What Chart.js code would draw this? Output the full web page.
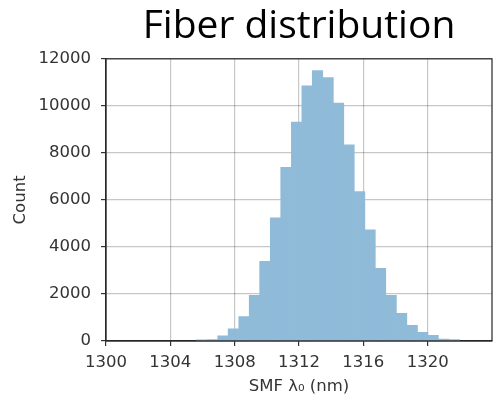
<!DOCTYPE html>
<html>
<head>
<meta charset="utf-8">
<script src="https://cdn.jsdelivr.net/npm/chart.js@4"></script>
<style>
  html, body { margin: 0; padding: 0; background: #fff; }
  #wrap { width: 493px; height: 395px; }
</style>
</head>
<body>
<div id="wrap"><canvas id="myChart" width="493" height="395"></canvas></div>
<script>
// histogram bins (centre of each bin, nm) and counts
var binCenters = [1305.96, 1306.62, 1307.27, 1307.92, 1308.58, 1309.23, 1309.88, 1310.54,
                  1311.19, 1311.85, 1312.50, 1313.15, 1313.81, 1314.46, 1315.11, 1315.77,
                  1316.42, 1317.07, 1317.73, 1318.38, 1319.04, 1319.69, 1320.34, 1321.00, 1321.65]
var counts = [50, 60, 225, 515, 1035, 1945, 3390, 5235, 7390, 9305, 10850, 11500, 11205,
              10115, 8340, 6355, 4725, 3095, 1945, 1180, 668, 370, 240, 80, 60]

var xTicks = [1300, 1304, 1308, 1312, 1316, 1320]
var yTicks = [0, 2000, 4000, 6000, 8000, 10000, 12000]

var tickFont = { family: "DejaVu Sans", size: 16.5 }
var inkColor = "#333"
// grid is drawn over the bars, semi transparent so it shows through them
var gridColor = "rgba(0,0,0,0.22)"

// box around the axes, like the matplotlib spines
var frame = {
    id: "frame",
    afterDraw: function(chart){
        var a = chart.chartArea
        var ctx = chart.ctx
        ctx.save()
        ctx.strokeStyle = "#262626"
        ctx.lineWidth = 1.2
        ctx.strokeRect(a.left, a.top, a.right - a.left, a.bottom - a.top)
        ctx.restore()
    }
}

var points = []
binCenters.forEach(function(x, i){
    points.push({ x: x, y: counts[i] })
})

function plainLabel(value){ return String(value) }

var myChart = document.getElementById("myChart").getContext('2d')

var chart = new Chart(myChart, {
    type: 'bar',
    data: {
        datasets: [{
            label: "Count",
            data: points,
            backgroundColor: "#8fbbd9",
            borderWidth: 0,
            barPercentage: 1,
            categoryPercentage: 1
        }]
    },
    options: {
        responsive: false,
        animation: false,
        layout: { padding: { left: 0, right: 1, top: 0, bottom: 0 } },
        plugins: {
            legend: { display: false },
            tooltip: { enabled: false },
            title: {
                display: true,
                text: "Fiber distribution",
                fullSize: false,
                align: "center",
                color: "#000",
                font: { family: "Open Sans", size: 39, weight: "normal", lineHeight: 1.2 },
                padding: { top: 3, bottom: 9 }
            }
        },
        scales: {
            x: {
                type: 'linear',
                offset: false,
                z: 1,
                min: 1300,
                max: 1324,
                afterBuildTicks: function(scale){
                    scale.ticks = xTicks.map(function(v){ return { value: v } })
                },
                afterFit: function(scale){ scale.height = 54 },
                grid: { offset: false, color: gridColor, lineWidth: 1.2, tickColor: "#333", tickLength: 5 },
                border: { color: "#262626", width: 1.2 },
                ticks: { color: inkColor, font: tickFont, padding: 7, maxRotation: 0, callback: plainLabel },
                title: {
                    display: true,
                    text: "SMF λ₀ (nm)",
                    color: inkColor,
                    font: { family: "DejaVu Sans", size: 16.5, lineHeight: 1.0 },
                    padding: { top: 0, bottom: 0 }
                }
            },
            y: {
                z: 1,
                min: 0,
                max: 12000,
                afterBuildTicks: function(scale){
                    scale.ticks = yTicks.map(function(v){ return { value: v } })
                },
                afterFit: function(scale){ scale.width = 106 },
                grid: { color: gridColor, lineWidth: 1.2, tickColor: "#333", tickLength: 5 },
                border: { color: "#262626", width: 1.2 },
                ticks: { color: inkColor, font: tickFont, padding: 10, callback: plainLabel },
                title: {
                    display: true,
                    text: "Count",
                    color: inkColor,
                    font: { family: "DejaVu Sans", size: 16.5, lineHeight: 1.2 },
                    padding: { top: 11, bottom: 0 }
                }
            }
        }
    },
    plugins: [frame]
})
</script>
</body>
</html>
